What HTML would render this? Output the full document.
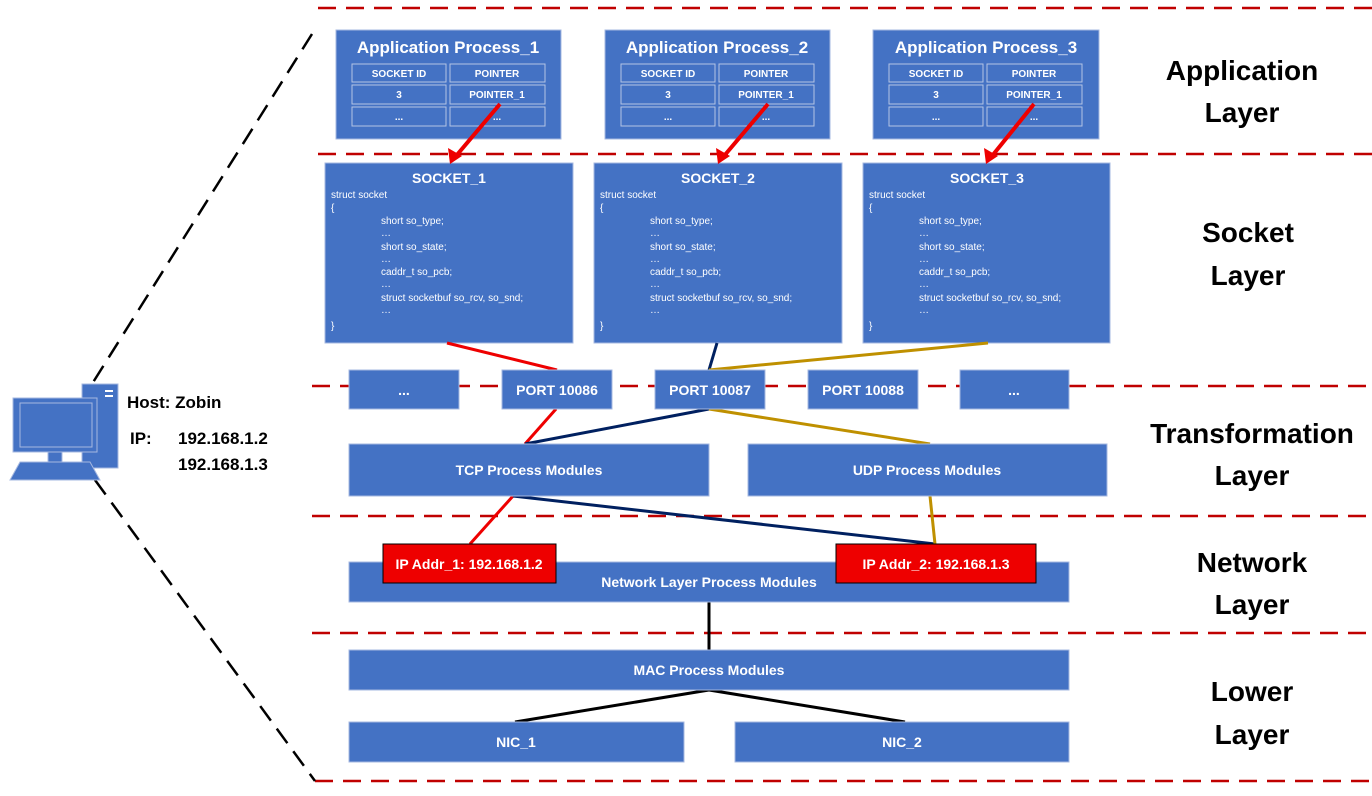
<!DOCTYPE html>
<html><head><meta charset="utf-8"><style>
body{margin:0;background:#fff;}
svg text{font-family:"Liberation Sans",sans-serif;}
</style></head><body>
<svg width="1372" height="791" xmlns="http://www.w3.org/2000/svg">
<g stroke="#c00000" stroke-width="2.5" stroke-dasharray="18,10" fill="none">
<line x1="318" y1="8" x2="1372" y2="8"/>
<line x1="318" y1="154" x2="1372" y2="154"/>
<line x1="312" y1="386" x2="1372" y2="386"/>
<line x1="312" y1="516" x2="1372" y2="516"/>
<line x1="312" y1="633" x2="1372" y2="633"/>
<line x1="315" y1="781" x2="1372" y2="781"/>
</g>
<g stroke="#000" stroke-width="2.5" stroke-dasharray="18,10">
<line x1="312" y1="34" x2="92" y2="384"/>
<line x1="95" y1="480" x2="315" y2="781"/>
</g>
<!-- computer -->
<g fill="#4472c4" stroke="#a6b8e0" stroke-width="1">
<rect x="82" y="384" width="36" height="84"/>
<rect x="13" y="398" width="84" height="54"/>
<rect x="48" y="452" width="14" height="10"/>
<path d="M20,462 L90,462 L100,480 L10,480 z"/>
</g>
<rect x="20" y="403" width="72" height="44" fill="none" stroke="#a6b8e0"/>
<rect x="105" y="390" width="8" height="2" fill="#fff"/><rect x="105" y="395" width="8" height="2" fill="#fff"/>
<g font-weight="bold" font-size="17" fill="#000">
<text x="127" y="408">Host: Zobin</text>
<text x="130" y="444">IP:</text>
<text x="178" y="444">192.168.1.2</text>
<text x="178" y="470">192.168.1.3</text>
</g>
<!-- app boxes -->
<g transform="translate(336,30)">
<rect width="225" height="109" fill="#4472c4" stroke="#a6b8e0"/>
<text x="112" y="23" text-anchor="middle" fill="#fff" font-weight="bold" font-size="17">Application Process_1</text>
</g>
<g transform="translate(605,30)">
<rect width="225" height="109" fill="#4472c4" stroke="#a6b8e0"/>
<text x="112" y="23" text-anchor="middle" fill="#fff" font-weight="bold" font-size="17">Application Process_2</text>
</g>
<g transform="translate(873,30)">
<rect width="226" height="109" fill="#4472c4" stroke="#a6b8e0"/>
<text x="113" y="23" text-anchor="middle" fill="#fff" font-weight="bold" font-size="17">Application Process_3</text>
</g>
<g fill="none" stroke="#b4c4e4" stroke-width="1">
<rect x="352" y="64" width="94" height="18"/><rect x="450" y="64" width="95" height="18"/>
<rect x="352" y="85" width="94" height="19"/><rect x="450" y="85" width="95" height="19"/>
<rect x="352" y="107" width="94" height="19"/><rect x="450" y="107" width="95" height="19"/>
<rect x="621" y="64" width="94" height="18"/><rect x="719" y="64" width="95" height="18"/>
<rect x="621" y="85" width="94" height="19"/><rect x="719" y="85" width="95" height="19"/>
<rect x="621" y="107" width="94" height="19"/><rect x="719" y="107" width="95" height="19"/>
<rect x="889" y="64" width="94" height="18"/><rect x="987" y="64" width="95" height="18"/>
<rect x="889" y="85" width="94" height="19"/><rect x="987" y="85" width="95" height="19"/>
<rect x="889" y="107" width="94" height="19"/><rect x="987" y="107" width="95" height="19"/>
</g>
<g fill="#fff" font-weight="bold" font-size="10" text-anchor="middle">
<text x="399" y="77">SOCKET ID</text><text x="497" y="77">POINTER</text>
<text x="399" y="98">3</text><text x="497" y="98">POINTER_1</text>
<text x="399" y="120">...</text><text x="497" y="120">...</text>
<text x="668" y="77">SOCKET ID</text><text x="766" y="77">POINTER</text>
<text x="668" y="98">3</text><text x="766" y="98">POINTER_1</text>
<text x="668" y="120">...</text><text x="766" y="120">...</text>
<text x="936" y="77">SOCKET ID</text><text x="1034" y="77">POINTER</text>
<text x="936" y="98">3</text><text x="1034" y="98">POINTER_1</text>
<text x="936" y="120">...</text><text x="1034" y="120">...</text>
</g>
<!-- sockets -->
<g fill="#4472c4" stroke="#a6b8e0">
<rect x="325" y="163" width="248" height="180"/>
<rect x="594" y="163" width="248" height="180"/>
<rect x="863" y="163" width="247" height="180"/>
</g>
<g fill="#fff" font-size="10">
<g transform="translate(325,163)">
<text x="124" y="20" text-anchor="middle" font-weight="bold" font-size="14">SOCKET_1</text>
<text x="6" y="35">struct socket</text><text x="6" y="48">{</text>
<text x="56" y="61">short so_type;</text><text x="56" y="73">…</text>
<text x="56" y="87">short so_state;</text><text x="56" y="99">…</text>
<text x="56" y="112">caddr_t so_pcb;</text><text x="56" y="124">…</text>
<text x="56" y="138">struct socketbuf so_rcv, so_snd;</text><text x="56" y="150">…</text>
<text x="6" y="166">}</text>
</g>
<g transform="translate(594,163)">
<text x="124" y="20" text-anchor="middle" font-weight="bold" font-size="14">SOCKET_2</text>
<text x="6" y="35">struct socket</text><text x="6" y="48">{</text>
<text x="56" y="61">short so_type;</text><text x="56" y="73">…</text>
<text x="56" y="87">short so_state;</text><text x="56" y="99">…</text>
<text x="56" y="112">caddr_t so_pcb;</text><text x="56" y="124">…</text>
<text x="56" y="138">struct socketbuf so_rcv, so_snd;</text><text x="56" y="150">…</text>
<text x="6" y="166">}</text>
</g>
<g transform="translate(863,163)">
<text x="124" y="20" text-anchor="middle" font-weight="bold" font-size="14">SOCKET_3</text>
<text x="6" y="35">struct socket</text><text x="6" y="48">{</text>
<text x="56" y="61">short so_type;</text><text x="56" y="73">…</text>
<text x="56" y="87">short so_state;</text><text x="56" y="99">…</text>
<text x="56" y="112">caddr_t so_pcb;</text><text x="56" y="124">…</text>
<text x="56" y="138">struct socketbuf so_rcv, so_snd;</text><text x="56" y="150">…</text>
<text x="6" y="166">}</text>
</g>
</g>
<!-- red arrows -->
<g stroke="#e00" stroke-width="4">
<line x1="500" y1="104" x2="456" y2="156"/>
<line x1="768" y1="104" x2="724" y2="156"/>
<line x1="1034" y1="104" x2="992" y2="156"/>
</g>
<g fill="#e00">
<path d="M450,164 L448,148 L462,156 z"/>
<path d="M718,164 L716,148 L730,156 z"/>
<path d="M986,164 L984,148 L998,156 z"/>
</g>
<!-- connectors -->
<g stroke-width="3">
<line x1="447" y1="343" x2="557" y2="370" stroke="#e00"/>
<line x1="717" y1="343" x2="709" y2="370" stroke="#002060"/>
<line x1="988" y1="343" x2="709" y2="370" stroke="#bf9000"/>
<line x1="556" y1="409" x2="525" y2="444" stroke="#e00"/>
<line x1="709" y1="409" x2="525" y2="444" stroke="#002060"/>
<line x1="709" y1="409" x2="930" y2="444" stroke="#bf9000"/>
<line x1="513" y1="496" x2="470" y2="544" stroke="#e00"/>
<line x1="513" y1="496" x2="935" y2="544" stroke="#002060"/>
<line x1="930" y1="496" x2="935" y2="544" stroke="#bf9000"/>
<line x1="709" y1="602" x2="709" y2="650" stroke="#000"/>
<line x1="709" y1="690" x2="515" y2="722" stroke="#000"/>
<line x1="709" y1="690" x2="905" y2="722" stroke="#000"/>
</g>
<!-- ports and modules -->
<g fill="#4472c4" stroke="#a6b8e0">
<rect x="349" y="370" width="110" height="39"/>
<rect x="502" y="370" width="110" height="39"/>
<rect x="655" y="370" width="110" height="39"/>
<rect x="808" y="370" width="110" height="39"/>
<rect x="960" y="370" width="109" height="39"/>
<rect x="349" y="444" width="360" height="52"/>
<rect x="748" y="444" width="359" height="52"/>
<rect x="349" y="562" width="720" height="40"/>
<rect x="349" y="650" width="720" height="40"/>
<rect x="349" y="722" width="335" height="40"/>
<rect x="735" y="722" width="334" height="40"/>
</g>
<g fill="#e00" stroke="#000" stroke-width="1">
<rect x="383" y="544" width="173" height="39"/>
<rect x="836" y="544" width="200" height="39"/>
</g>
<g fill="#fff" font-weight="bold" font-size="14" text-anchor="middle">
<text x="404" y="395">...</text>
<text x="557" y="395">PORT 10086</text>
<text x="710" y="395">PORT 10087</text>
<text x="863" y="395">PORT 10088</text>
<text x="1014" y="395">...</text>
<text x="529" y="475">TCP Process Modules</text>
<text x="927" y="475">UDP Process Modules</text>
<text x="709" y="587">Network Layer Process Modules</text>
<text x="469" y="569">IP Addr_1: 192.168.1.2</text>
<text x="936" y="569">IP Addr_2: 192.168.1.3</text>
<text x="709" y="675">MAC Process Modules</text>
<text x="516" y="747">NIC_1</text>
<text x="902" y="747">NIC_2</text>
</g>
<g fill="#000" font-weight="bold" font-size="28" text-anchor="middle">
<text x="1242" y="80">Application</text><text x="1242" y="122">Layer</text>
<text x="1248" y="242">Socket</text><text x="1248" y="285">Layer</text>
<text x="1252" y="443">Transformation</text><text x="1252" y="485">Layer</text>
<text x="1252" y="572">Network</text><text x="1252" y="614">Layer</text>
<text x="1252" y="701">Lower</text><text x="1252" y="744">Layer</text>
</g>
</svg>
</body></html>
